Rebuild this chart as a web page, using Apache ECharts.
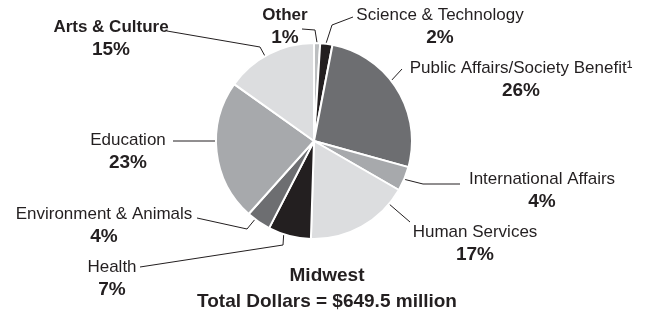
<!DOCTYPE html>
<html>
<head>
<meta charset="utf-8">
<script src="https://cdn.jsdelivr.net/npm/echarts@6/dist/echarts.min.js"></script>
<style>
  html, body { margin: 0; padding: 0; background: #ffffff; }
  #main { width: 655px; height: 313px; }
</style>
</head>
<body>
<div id="main"></div>
<script>
// ---- data (clockwise from 12 o'clock) ----
var categories = ['Other', 'Science & Technology', 'Public Affairs/Society Benefit\u00B9',
  'International Affairs', 'Human Services', 'Health', 'Environment & Animals',
  'Education', 'Arts & Culture'];
var shares = [1, 2, 26, 4, 17, 7, 4, 23, 15];
var percentLabels = ['1%', '2%', '26%', '4%', '17%', '7%', '4%', '23%', '15%'];
var titleLines = ['Midwest', 'Total Dollars = $649.5 million'];

// ---- styles / layout ----
var sliceColors = ['#bcbec0', '#231f20', '#6d6e71', '#a7a9ac', '#dcdddf',
  '#231f20', '#6d6e71', '#a7a9ac', '#dcdddf'];
var boldName = [true, false, false, false, false, false, false, false, true];
var pieCenter = [314, 141];
var pieRadius = 98;
// label placement: cx, top y, anchor angle on slice (deg clockwise from top), bend, end
var labelPlace = [
  { x: 285, y: 4,   ang: 1.8, pts: [[315, 30], [302, 29]] },
  { x: 440, y: 4,   ang: 7,   pts: [[332, 25], [353, 17]] },
  { x: 521, y: 57,  ang: 52,  pts: [[402, 69]] },
  { x: 542, y: 168, ang: 113, pts: [[423, 184], [460, 184]] },
  { x: 475, y: 221, ang: 130, pts: [[410, 222]] },
  { x: 112, y: 256, ang: 198, pts: [[283, 245], [140, 267]] },
  { x: 104, y: 203, ang: 217, pts: [[247, 229], [197, 218]] },
  { x: 128, y: 129, ang: 270, pts: [[173, 141]] },
  { x: 111, y: 16,  ang: 330, pts: [[260, 47], [167, 31]] }
];

function edgePoint(angDeg) {
  var a = angDeg * Math.PI / 180;
  return [pieCenter[0] + pieRadius * Math.sin(a), pieCenter[1] - pieRadius * Math.cos(a)];
}

var seriesData = categories.map(function (name, i) {
  return {
    name: name,
    value: shares[i],
    itemStyle: { color: sliceColors[i] },
    label: {
      formatter: (boldName[i] ? '{b|' : '{n|') + name + '}\n{p|' + percentLabels[i] + '}'
    }
  };
});

var chart = echarts.init(document.getElementById('main'), null, { renderer: 'canvas' });
chart.setOption({
  animation: false,
  backgroundColor: '#ffffff',
  title: {
    text: titleLines.join('\n'),
    left: 322,
    top: 258,
    textAlign: 'center',
    textStyle: {
      fontFamily: 'Liberation Sans, Arial, sans-serif',
      fontSize: 19,
      fontWeight: 'bold',
      color: '#231f20',
      lineHeight: 26
    }
  },
  series: [{
    type: 'pie',
    center: pieCenter,
    radius: pieRadius,
    startAngle: 90,
    clockwise: true,
    avoidLabelOverlap: false,
    itemStyle: { borderColor: '#ffffff', borderWidth: 2 },
    label: {
      show: true,
      position: 'outside',
      color: '#231f20',
      fontFamily: 'Liberation Sans, Arial, sans-serif',
      align: 'center',
      rich: {
        n: { fontSize: 17, fontWeight: 'normal', lineHeight: 22, color: '#231f20',
             fontFamily: 'Liberation Sans, Arial, sans-serif', align: 'center' },
        b: { fontSize: 17, fontWeight: 'bold', lineHeight: 22, color: '#231f20',
             fontFamily: 'Liberation Sans, Arial, sans-serif', align: 'center' },
        p: { fontSize: 19, fontWeight: 'bold', lineHeight: 24, color: '#231f20',
             fontFamily: 'Liberation Sans, Arial, sans-serif', align: 'center' }
      }
    },
    labelLine: {
      show: true,
      length: 10,
      length2: 10,
      lineStyle: { color: '#231f20', width: 1 }
    },
    labelLayout: function (p) {
      var L = labelPlace[p.dataIndex];
      var pts = [edgePoint(L.ang)].concat(L.pts);
      return {
        x: L.x,
        y: L.y,
        align: 'center',
        verticalAlign: 'top',
        labelLinePoints: pts
      };
    },
    emphasis: { disabled: true },
    data: seriesData
  }]
});
</script>
</body>
</html>
